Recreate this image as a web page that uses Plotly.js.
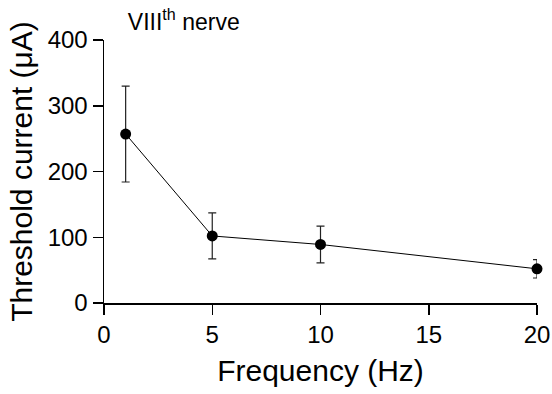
<!DOCTYPE html>
<html>
<head>
<meta charset="utf-8">
<script src="https://cdn.plot.ly/plotly-3.0.1.min.js"></script>
<style>html,body{margin:0;padding:0;background:#fff}#chart{width:552px;height:394px}#dbg{position:absolute;left:150px;top:50px;font:11px monospace;width:390px;visibility:hidden}</style>
</head>
<body>
<div id="chart"></div>
<div id="dbg"></div>
<script>
const frequency = [1, 5, 10, 20];
const threshold = [257, 102, 89, 52];
const errorSEM = [73, 35, 28, 14];
const xTicks = [0, 5, 10, 15, 20];
const yTicks = [0, 100, 200, 300, 400];

const FONT = 'Liberation Sans, Arial, sans-serif';

const trace = {
  x: frequency, y: threshold, type: 'scatter', mode: 'lines+markers',
  line: {color: '#000', width: 1}, marker: {color: '#000', size: 11},
  error_y: {type: 'data', array: errorSEM, visible: true, color: '#222', thickness: 1.2, width: 4},
  showlegend: false, cliponaxis: false
};

const layout = {
  width: 552, height: 394,
  margin: {l: 104, r: 15, t: 40, b: 91},
  paper_bgcolor: '#fff', plot_bgcolor: '#fff',
  font: {family: FONT, color: '#000'},
  title: {text: 'VIII<sup>th</sup> nerve', font: {size: 23, family: FONT, color: '#000'},
    xref: 'paper', x: 0.055, xanchor: 'left', yref: 'container', y: 0.945, yanchor: 'middle'},
  xaxis: {range: [0, 20], tickvals: xTicks, showline: true, linecolor: '#000', linewidth: 1.5,
    ticks: 'outside', ticklen: 10, tickwidth: 1.5, tickcolor: '#000', showgrid: false, zeroline: false,
    tickfont: {size: 24, family: FONT, color: '#000'},
    title: {text: 'Frequency (Hz)', font: {size: 30, family: FONT, color: '#000'}, standoff: 12}},
  yaxis: {range: [0, 400], tickvals: yTicks, showline: true, linecolor: '#000', linewidth: 1.5,
    ticks: 'outside', ticklen: 10, tickwidth: 1.5, tickcolor: '#000', showgrid: false, zeroline: false,
    tickfont: {size: 24, family: FONT, color: '#000'},
    title: {text: 'Threshold current (μA)', font: {size: 30, family: FONT, color: '#000'}, standoff: 6}}
};

Plotly.newPlot('chart', [trace], layout, {displayModeBar: false, staticPlot: true}).then(gd => {
  const t = gd.querySelectorAll('.ytick text');
  let s = 'n=' + t.length + ' ';
  if (t.length) s += t[0].getAttribute('style') + ' bbox=' + JSON.stringify(t[0].getBBox());
  s += ' full=' + JSON.stringify(gd._fullLayout.yaxis.tickfont) + ' ';
  const xt = gd.querySelectorAll('.xtick text');
  if (xt.length) s += ' X: ' + xt[0].getAttribute('style');
  document.getElementById('dbg').textContent = s;
});
</script>
</body>
</html>
